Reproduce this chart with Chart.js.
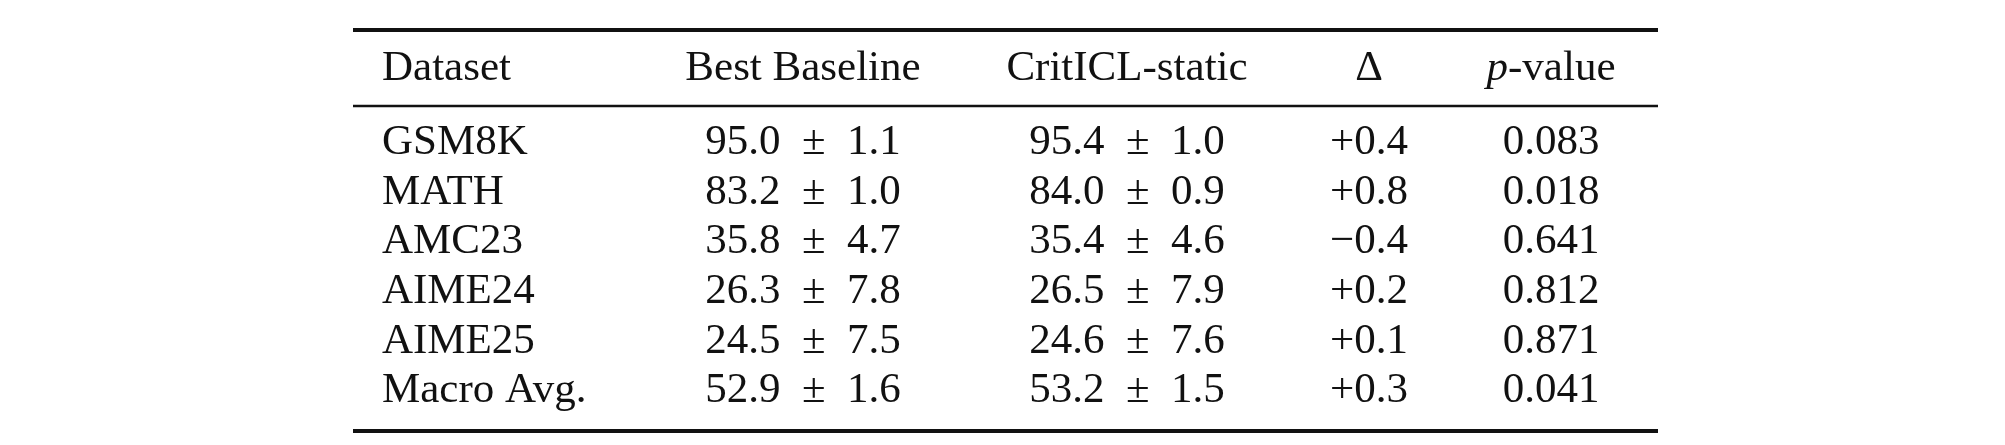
<!DOCTYPE html>
<html>
<head>
<meta charset="utf-8">
<script src="https://cdn.jsdelivr.net/npm/chart.js@4.4.0/dist/chart.umd.min.js"></script>
<style>
  html, body { margin: 0; padding: 0; background: #fff; }
  #wrap { width: 2005px; height: 445px; }
</style>
</head>
<body>
<div id="wrap"><canvas id="tbl"></canvas></div>
<script>
// table contents
const datasets = ['GSM8K', 'MATH', 'AMC23', 'AIME24', 'AIME25', 'Macro Avg.'];
const baselineMean = ['95.0', '83.2', '35.8', '26.3', '24.5', '52.9'];
const baselineStd = ['1.1', '1.0', '4.7', '7.8', '7.5', '1.6'];
const criticlMean = ['95.4', '84.0', '35.4', '26.5', '24.6', '53.2'];
const criticlStd = ['1.0', '0.9', '4.6', '7.9', '7.6', '1.5'];
const deltas = ['+0.4', '+0.8', '\u22120.4', '+0.2', '+0.1', '+0.3'];
const pValues = ['0.083', '0.018', '0.641', '0.812', '0.871', '0.041'];
const headers = ['Dataset', 'Best Baseline', 'CritICL-static', '\u0394', 'p-value'];

// layout (pixel space of the scales)
const colX = [382, 803, 1127, 1369, 1551];
const colAlign = ['left', 'center', 'center', 'center', 'center'];
const headerY = 69;
const rowY0 = 143, rowStep = 49.6;
const rules = [{ y: 30, w: 4 }, { y: 106, w: 2.6 }, { y: 431, w: 4 }];
const ruleX = [353, 1658];
const FONT = '"Liberation Serif", "DejaVu Serif", serif';
const SIZE = 43;

function cellText(r, c) {
  if (c === 0) return datasets[r];
  if (c === 1) return baselineMean[r] + '\u2002\u00b1\u2002' + baselineStd[r];
  if (c === 2) return criticlMean[r] + '\u2002\u00b1\u2002' + criticlStd[r];
  if (c === 3) return deltas[r];
  return pValues[r];
}

const tablePlugin = {
  id: 'tablePlugin',
  afterDraw(chart) {
    const ctx = chart.ctx;
    const xs = chart.scales.x, ys = chart.scales.y;
    ctx.save();
    ctx.fillStyle = '#111';
    ctx.strokeStyle = '#111';
    rules.forEach(r => {
      ctx.lineWidth = r.w;
      ctx.beginPath();
      ctx.moveTo(xs.getPixelForValue(ruleX[0]), ys.getPixelForValue(r.y));
      ctx.lineTo(xs.getPixelForValue(ruleX[1]), ys.getPixelForValue(r.y));
      ctx.stroke();
    });
    ctx.textBaseline = 'middle';
    ctx.font = SIZE + 'px ' + FONT;
    headers.forEach((h, c) => {
      const x = xs.getPixelForValue(colX[c]);
      const y = ys.getPixelForValue(headerY);
      if (h === 'p-value') {
        ctx.font = 'italic ' + SIZE + 'px ' + FONT;
        const w1 = ctx.measureText('p').width;
        ctx.font = SIZE + 'px ' + FONT;
        const w2 = ctx.measureText('-value').width;
        const x0 = x - (w1 + w2) / 2;
        ctx.textAlign = 'left';
        ctx.font = 'italic ' + SIZE + 'px ' + FONT;
        ctx.fillText('p', x0, y);
        ctx.font = SIZE + 'px ' + FONT;
        ctx.fillText('-value', x0 + w1, y);
      } else {
        ctx.textAlign = colAlign[c];
        ctx.fillText(h, x, y);
      }
    });
    datasets.forEach((d, r) => {
      const y = ys.getPixelForValue(rowY0 + r * rowStep);
      for (let c = 0; c < headers.length; c++) {
        ctx.textAlign = colAlign[c];
        ctx.fillText(cellText(r, c), xs.getPixelForValue(colX[c]), y);
      }
    });
    ctx.restore();
  }
};

new Chart(document.getElementById('tbl'), {
  type: 'scatter',
  data: { datasets: [{ data: [], pointRadius: 0 }] },
  options: {
    responsive: true,
    maintainAspectRatio: false,
    animation: false,
    layout: { padding: 0 },
    plugins: { legend: { display: false }, tooltip: { enabled: false } },
    scales: {
      x: { type: 'linear', min: 0, max: 2005, display: false },
      y: { type: 'linear', min: 0, max: 445, reverse: true, display: false }
    }
  },
  plugins: [tablePlugin]
});
</script>
</body>
</html>
